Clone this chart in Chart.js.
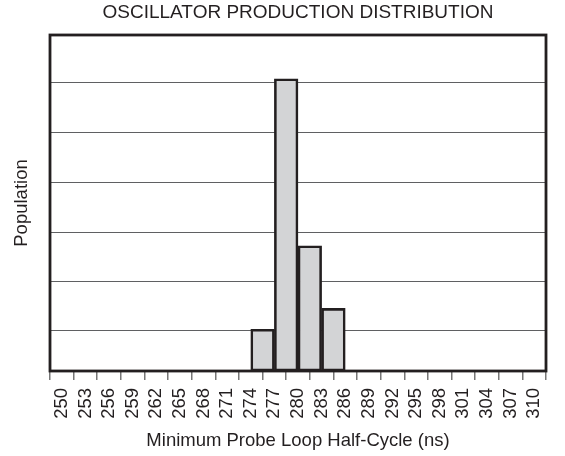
<!DOCTYPE html>
<html>
<head>
<meta charset="utf-8">
<script src="https://cdn.jsdelivr.net/npm/chart.js@4"></script>
<style>
  html, body { margin: 0; padding: 0; background: #fff; }
  #wrap { width: 565px; height: 456px; }
</style>
</head>
<body>
<div id="wrap"><canvas id="chart"></canvas></div>
<script>
// ---------------- dados ----------------
const binCenters = [275.5, 278.5, 281.5, 284.5];   // bins 274-277, 277-280, 280-283, 283-286
const population = [2, 14, 6, 3];
const xTickValues = [250, 253, 256, 259, 262, 265, 268, 271, 274, 277, 280,
                     283, 286, 289, 292, 295, 298, 301, 304, 307, 310];
const gridValues = [1.92, 4.31, 6.66, 9.01, 11.41, 13.81];
const yMax = 16.1;
const chartTitle = "OSCILLATOR PRODUCTION DISTRIBUTION";

const FONT = "'Liberation Sans', Arial, Helvetica, sans-serif";
const INK = "#231f20";
const FS = 18.5;

// moldura preta + título centrado sobre a área do gráfico
const frame = {
  id: "frame",
  afterDraw(chart) {
    const { ctx, chartArea: a } = chart;
    ctx.save();
    ctx.strokeStyle = INK;
    ctx.lineWidth = 2.8;
    ctx.strokeRect(a.left, a.top, a.right - a.left, a.bottom - a.top);

    ctx.fillStyle = INK;
    ctx.font = `19px ${FONT}`;
    ctx.textAlign = "center";
    ctx.textBaseline = "middle";
    ctx.fillText(chartTitle, (a.left + a.right) / 2, 13);
    ctx.restore();
  }
};

new Chart(document.getElementById("chart"), {
  type: "bar",
  data: {
    datasets: [{
      data: binCenters.map((x, i) => ({ x, y: population[i] })),
      backgroundColor: "#d3d4d6",
      borderColor: INK,
      borderWidth: 2.6,
      borderSkipped: false,
      barPercentage: 1,
      categoryPercentage: 1
    }]
  },
  options: {
    responsive: true, maintainAspectRatio: false, animation: false,
    layout: { padding: { right: 19, left: 0, bottom: 0, top: 35 } },
    plugins: {
      legend: { display: false },
      tooltip: { enabled: false },
      title: { display: false }
    },
    scales: {
      x: {
        type: "linear", min: 250, max: 310,
        afterBuildTicks: (s) => { s.ticks = xTickValues.map(v => ({ value: v })); },
        afterFit: (s) => { s.height = 85; },
        ticks: {
          autoSkip: false, minRotation: 90, maxRotation: 90, padding: 8,
          color: INK, font: { family: FONT, size: FS }
        },
        grid: { drawOnChartArea: false, drawTicks: true, tickLength: 9, color: "#777", lineWidth: 1.5 },
        border: { display: false },
        title: {
          display: true, text: "Minimum Probe Loop Half-Cycle (ns)",
          color: INK, font: { family: FONT, size: FS }, padding: { top: 4, bottom: 4 }
        }
      },
      y: {
        min: 0, max: yMax,
        afterBuildTicks: (s) => { s.ticks = gridValues.map(v => ({ value: v })); },
        afterFit: (s) => { s.width = 50; },
        ticks: { display: false },
        grid: { color: "#5f6062", lineWidth: 1, drawTicks: false },
        border: { display: false },
        title: {
          display: true, text: "Population",
          color: INK, font: { family: FONT, size: FS }, padding: { top: 11, bottom: 0 }
        }
      }
    }
  },
  plugins: [frame]
});
</script>
</body>
</html>
